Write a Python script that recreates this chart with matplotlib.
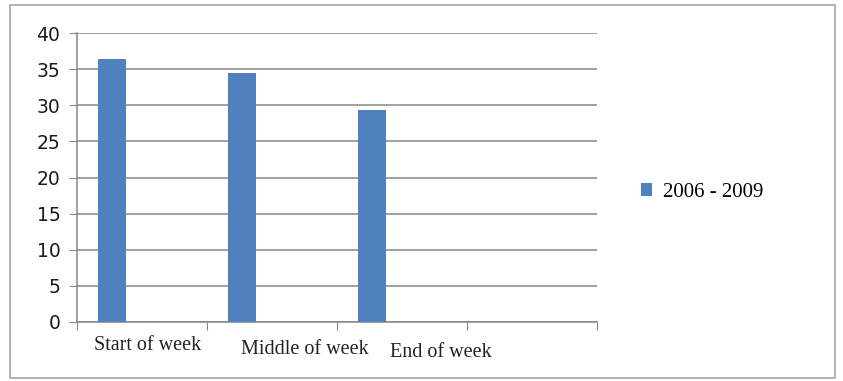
import matplotlib.pyplot as plt
from matplotlib.patches import Rectangle

categories = ["Start of week", "Middle of week", "End of week"]
values = [36.4, 34.5, 29.3]
series_name = "2006 - 2009"

fig = plt.figure(figsize=(8.43, 3.81), dpi=100)
fig.patches.append(Rectangle((0.012, 0.008), 0.979, 0.978, transform=fig.transFigure,
                             fill=False, edgecolor="#a6a6a6", linewidth=1.2))

ax = fig.add_axes([0.0913, 0.155, 0.6168, 0.758])
slots = [i + 0.27 for i in range(len(values))]
ax.bar(slots, values, width=0.215, color="#4f81bd", label=series_name, zorder=3)

ax.set_xlim(0, 4)
ax.set_ylim(0, 40)
ax.set_yticks(range(0, 41, 5))
ax.set_xticks(range(0, 5))
ax.set_xticklabels([])
ax.grid(axis="y", color="#868686", linewidth=1.1, zorder=0)
ax.tick_params(axis="y", length=6, color="#868686", labelsize=13.5, pad=6, labelcolor="#1a1a1a")
ax.tick_params(axis="x", length=6, color="#868686")
for s in ["top", "right"]:
    ax.spines[s].set_visible(False)
for s in ["left", "bottom"]:
    ax.spines[s].set_color("#868686")
    ax.spines[s].set_linewidth(1.1)

# category labels sit a little staggered under the axis
label_x = [0.54, 1.75, 2.8]
label_dy = [-0.08, -0.095, -0.105]
for x, dy, name in zip(label_x, label_dy, categories):
    ax.text(x, dy, name, transform=ax.get_xaxis_transform(), ha="center", va="center",
            family="Liberation Serif", fontsize=14.5, color="#222222")

fig.legend(loc="center left", bbox_to_anchor=(0.738, 0.495), frameon=False,
           prop={"family": "Liberation Serif", "size": 15}, handlelength=0.55,
           handleheight=0.55, handletextpad=0.5)

fig.savefig("out.png", dpi=100)
